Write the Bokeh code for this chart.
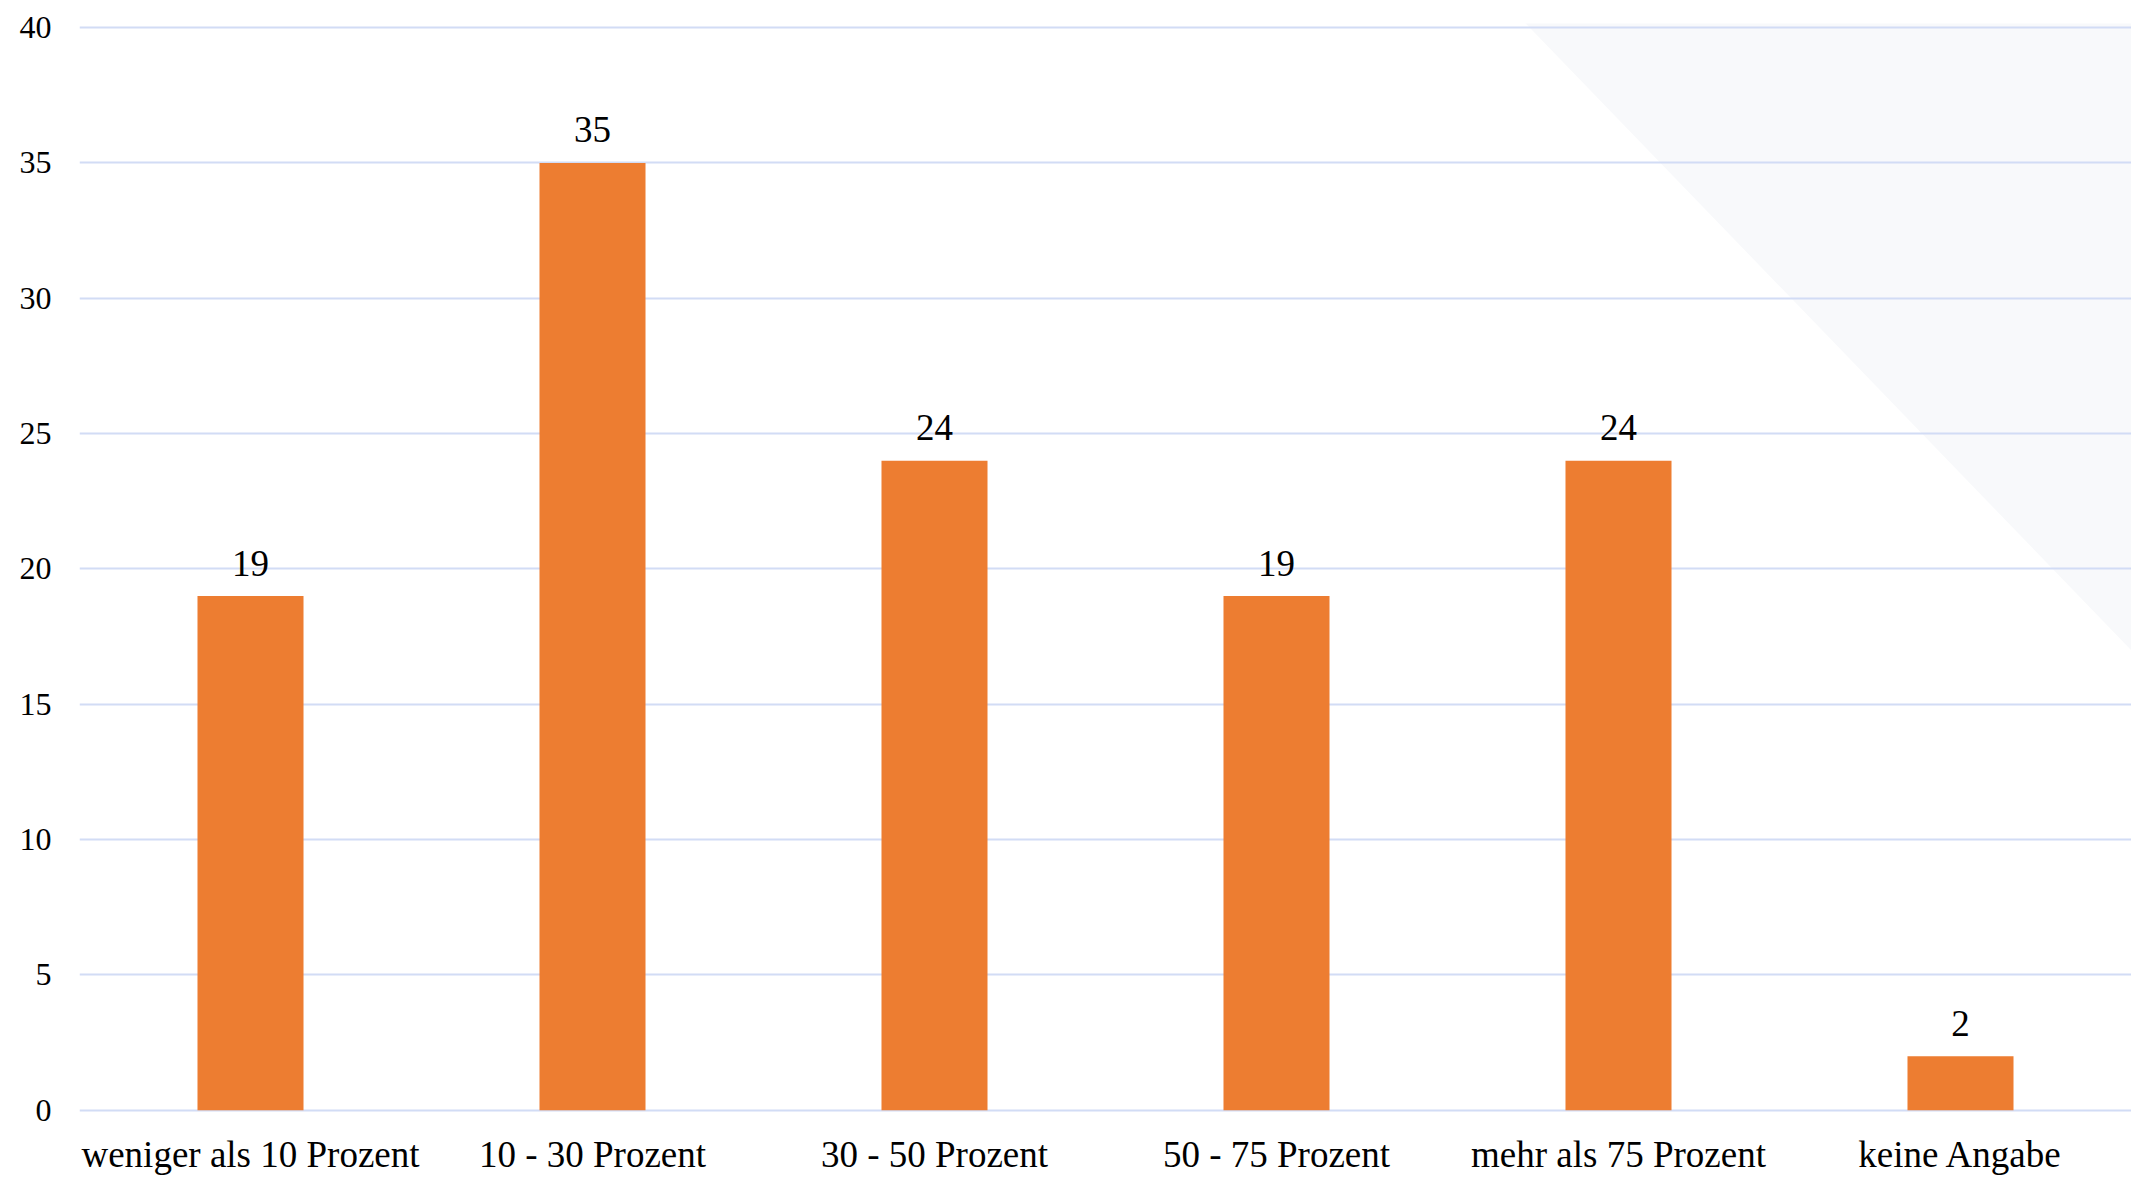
from bokeh.plotting import figure
from bokeh.models import ColumnDataSource, Range1d, FixedTicker, PolyAnnotation
from bokeh.core.properties import value
from bokeh.embed import file_html
from bokeh.resources import INLINE

categories = ["weniger als 10 Prozent", "10 - 30 Prozent", "30 - 50 Prozent",
              "50 - 75 Prozent", "mehr als 75 Prozent", "keine Angabe"]
counts = [19, 35, 24, 19, 24, 2]
y_ticks = [0, 5, 10, 15, 20, 25, 30, 35, 40]

FONT = "Liberation Serif"
W, H = 2131, 1178

src = ColumnDataSource(dict(cat=categories, val=counts, lbl=[str(v) for v in counts]))

p = figure(x_range=categories, y_range=Range1d(-0.08, 40.15), width=W, height=H,
           output_backend="svg", toolbar_location=None,
           min_border_left=79, min_border_right=0, min_border_top=23, min_border_bottom=66)
p.outline_line_color = None
p.background_fill_color = None
p.border_fill_color = "white"

# faint decorative triangle in the upper right corner
tri = PolyAnnotation(xs=[1503, W, W], ys=[0, 0, 650], xs_units="canvas", ys_units="canvas",
                     fill_color="#f8f9fb", fill_alpha=1.0, line_alpha=0, level="image")
p.add_layout(tri)

p.vbar(x="cat", top="val", width=0.31, source=src, color="#ED7D31", line_color=None)
p.text(x="cat", y="val", text="lbl", source=src, text_align="center",
       text_baseline="alphabetic", y_offset=-33, text_font=value(FONT),
       text_font_size="37px", text_color="black")

p.xgrid.grid_line_color = None
p.ygrid.grid_line_color = "#d2dcf5"
p.ygrid.grid_line_width = 2
p.yaxis.ticker = FixedTicker(ticks=y_ticks)

for ax in (p.xaxis, p.yaxis):
    ax.axis_line_color = None
    ax.major_tick_line_color = None
    ax.minor_tick_line_color = None
    ax.major_label_text_font = FONT
    ax.major_label_text_color = "black"

p.yaxis.major_label_text_font_size = "32px"
p.yaxis.major_label_standoff = 22
p.xaxis.major_label_text_font_size = "37px"
p.xaxis.major_label_text_line_height = 1.0
p.xaxis.major_label_standoff = 15

open("out.html", "w").write(file_html(p, INLINE))
